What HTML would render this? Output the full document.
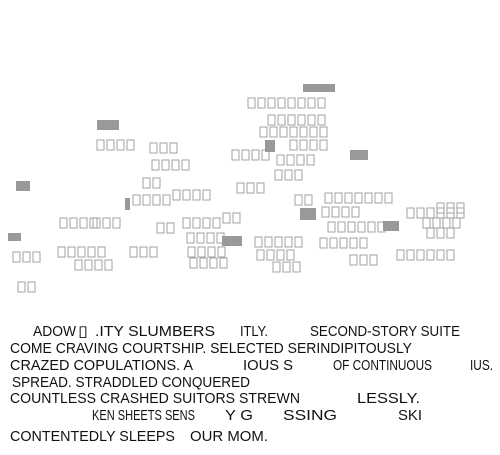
<!DOCTYPE html>
<html><head><meta charset="utf-8"><style>
html,body{margin:0;padding:0;background:#fff;width:500px;height:455px;overflow:hidden}
svg{display:block}
text{font-family:"Liberation Sans",sans-serif;font-size:15px;fill:#111}
</style></head><body>
<svg id="s" width="500" height="455">
<g id="city"></g>
<g id="txt"></g>
</svg>
<script>
const rows=[[248,98,8],[268,115,6],[260,127,7],[290,140,4],[232,150,4],[277,155,4],[275,170,3],[97,140,4],[150,143,3],[152,160,4],[143,178,2],[237,183,3],[133,195,4],[173,190,4],[295,195,2],[325,193,7],[322,207,4],[328,222,6],[437,203,3],[407,208,6],[423,218,4],[427,228,3],[60,218,4],[93,218,3],[157,223,2],[183,218,4],[187,233,4],[188,247,4],[190,258,4],[255,237,5],[257,250,4],[273,262,3],[350,255,3],[320,238,5],[13,252,3],[58,247,5],[75,260,4],[130,247,3],[397,250,6],[223,213,2],[18,282,2]];
const blocks=[[97,120,22,10],[303,84,32,8],[350,150,18,10],[16,181,14,10],[8,233,13,8],[383,221,16,10],[265,140,10,12],[222,236,20,10],[300,208,16,12],[125,198,5,12]];
const lines=[["ADOW",33,76],["\u25AF",78,88],[".ITY SLUMBERS",95,215],["ITLY.",240,268],["SECOND-STORY SUITE",310,460],
["COME CRAVING COURTSHIP. SELECTED SERINDIPITOUSLY",10,412],
["CRAZED COPULATIONS. A",10,193],["IOUS S",243,293],["OF CONTINUOUS",333,432],["IUS.",470,493],
["SPREAD. STRADDLED CONQUERED",12,250],
["COUNTLESS CRASHED SUITORS STREWN",10,300],["LESSLY.",357,420],
["KEN SHEETS SENS",92,195],["Y G",225,253],["SSING",283,337],["SKI",398,422],
["CONTENTEDLY SLEEPS",10,175],["OUR MOM.",190,268]];
const lineY=[336,336,336,336,336,353,370,370,370,370,387,403,403,420,420,420,420,441,441];
const NS="http://www.w3.org/2000/svg",city=document.getElementById('city'),txt=document.getElementById('txt');
rows.forEach(r=>{for(let i=0;i<r[2];i++){const e=document.createElementNS(NS,'rect');


e.setAttribute('x',r[0]+i*10);e.setAttribute('y',r[1]);e.setAttribute('width',7);e.setAttribute('height',10);
e.setAttribute('fill','none');e.setAttribute('stroke','#999');e.setAttribute('stroke-width','0.9');city.appendChild(e);}});
blocks.forEach(b=>{const e=document.createElementNS(NS,'rect');


e.setAttribute('x',b[0]);e.setAttribute('y',b[1]);e.setAttribute('width',b[2]);e.setAttribute('height',b[3]);e.setAttribute('fill','#999');city.appendChild(e);});
lines.forEach((l,i)=>{const e=document.createElementNS(NS,'text');


e.setAttribute('x',l[1]);e.setAttribute('y',lineY[i]);e.setAttribute('textLength',l[2]-l[1]);e.setAttribute('lengthAdjust','spacingAndGlyphs');
e.textContent=l[0];txt.appendChild(e);});
</script>
</body></html>
